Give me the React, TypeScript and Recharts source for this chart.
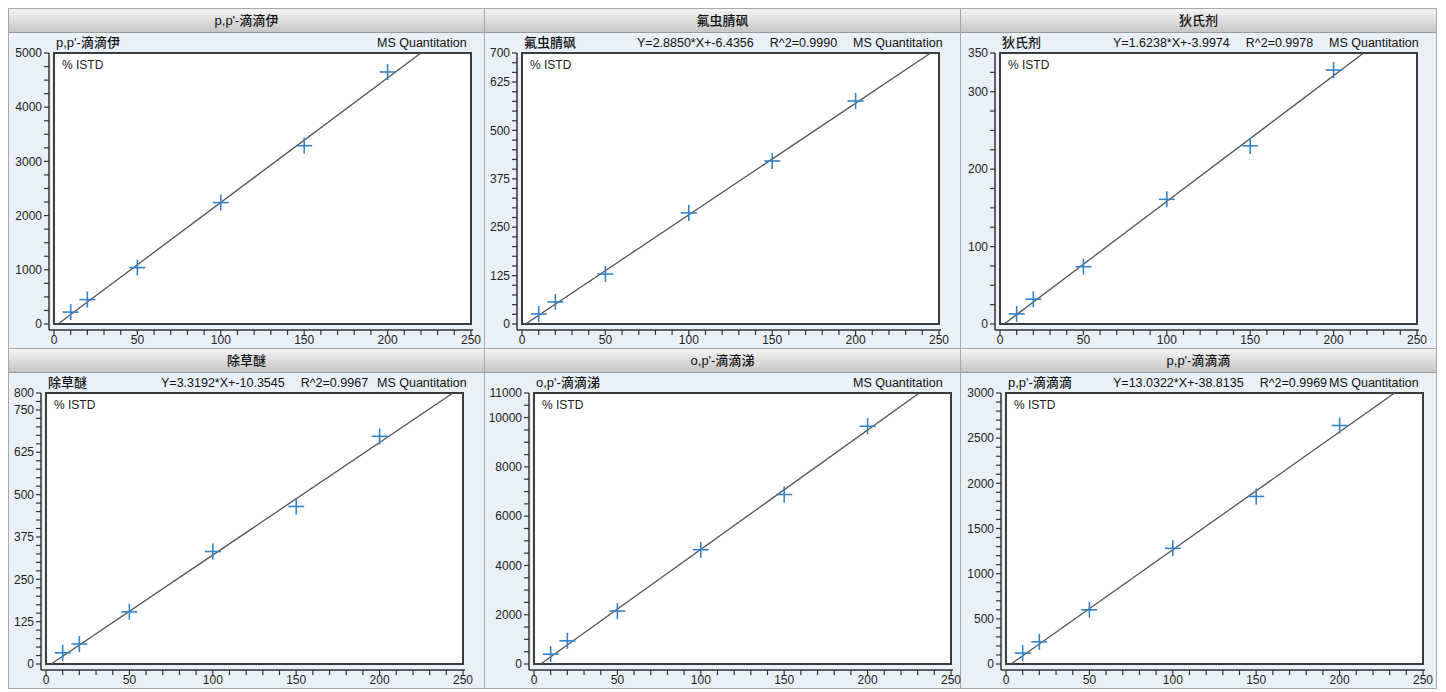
import React from 'react';
import { ComposedChart, Line, Scatter, XAxis, YAxis } from 'recharts';

// standard concentrations (same for every compound)
const concentrations = [10, 20, 50, 100, 150, 200];

// responses
const ddeResponse = [220, 450, 1040, 2240, 3290, 4650];
const fipronilResponse = [26, 57, 129, 287, 421, 576];
const dieldrinResponse = [13, 32, 74, 161, 230, 328];
const nitrofenResponse = [33, 59, 154, 332, 465, 672];
const opDdtResponse = [400, 940, 2150, 4640, 6880, 9650];
const dddResponse = [120, 245, 600, 1280, 1855, 2640];

// fitted line: where it leaves the bottom (y = 0) and where it meets the top of the box
const ddeFitX = [2.4, 220];
const fipronilFitX = [2.2, 245];
const dieldrinFitX = [2.5, 218];
const nitrofenFitX = [3.1, 244];
const opDdtFitX = [4, 231];
const dddFitX = [3, 233];

const xLabels = [0, 50, 100, 150, 200, 250];
const xMinorStep = 10;

const ddeYLabels = [0, 1000, 2000, 3000, 4000, 5000];
const fipronilYLabels = [0, 125, 250, 375, 500, 625, 700];
const dieldrinYLabels = [0, 100, 200, 300, 350];
const nitrofenYLabels = [0, 125, 250, 375, 500, 625, 750, 800];
const opDdtYLabels = [0, 2000, 4000, 6000, 8000, 10000, 11000];
const dddYLabels = [0, 500, 1000, 1500, 2000, 2500, 3000];

const FONT = '"Liberation Sans", Arial, "Noto Sans CJK SC", sans-serif';
const PANEL_W = 476;
const PANEL_H = 340;
const HEAD_H = 24;
const BOX_TOP = 44;
const BOX_H = 271;
const BOX_W = 417;
const CHART_H = PANEL_H - HEAD_H;
const TICK = 5;

function stepTicks(max: number, step: number) {
  const t: number[] = [];
  for (let i = 0; i * step <= max; i++) t.push(i * step);
  return t;
}

type PanelDef = {
  title: string;
  equation?: string;
  r2?: string;
  response: number[];
  fitX: number[];
  yLabels: number[];
  yMinor: number;
  boxLeft: number;
};

const panels: PanelDef[] = [
  { title: "p,p'-滴滴伊", response: ddeResponse, fitX: ddeFitX, yLabels: ddeYLabels, yMinor: 250, boxLeft: 45 },
  { title: '氟虫腈砜', equation: 'Y=2.8850*X+-6.4356', r2: 'R^2=0.9990', response: fipronilResponse, fitX: fipronilFitX, yLabels: fipronilYLabels, yMinor: 25, boxLeft: 37 },
  { title: '狄氏剂', equation: 'Y=1.6238*X+-3.9974', r2: 'R^2=0.9978', response: dieldrinResponse, fitX: dieldrinFitX, yLabels: dieldrinYLabels, yMinor: 25, boxLeft: 39 },
  { title: '除草醚', equation: 'Y=3.3192*X+-10.3545', r2: 'R^2=0.9967', response: nitrofenResponse, fitX: nitrofenFitX, yLabels: nitrofenYLabels, yMinor: 25, boxLeft: 37 },
  { title: "o,p'-滴滴涕", response: opDdtResponse, fitX: opDdtFitX, yLabels: opDdtYLabels, yMinor: 500, boxLeft: 49 },
  { title: "p,p'-滴滴滴", equation: 'Y=13.0322*X+-38.8135', r2: 'R^2=0.9969', response: dddResponse, fitX: dddFitX, yLabels: dddYLabels, yMinor: 100, boxLeft: 45 },
];

const Cross = (props: any) => {
  const { cx, cy } = props;
  if (cx == null || cy == null) return <g />;
  return (
    <g stroke="#3483c9" strokeWidth={1.6}>
      <line x1={cx - 8} y1={cy} x2={cx + 8} y2={cy} />
      <line x1={cx} y1={cy - 8} x2={cx} y2={cy + 8} />
    </g>
  );
};

// y tick: mark drawn here so minor ticks show, label only on the listed values
const makeYTick = (labels: number[]) => (props: any) => {
  const { x, y, payload } = props;
  const ax = x + 2 + TICK;
  return (
    <g>
      <line x1={ax - TICK} y1={y} x2={ax} y2={y} stroke="#333" strokeWidth={1.2} />
      {labels.includes(payload.value) && (
        <text x={x} y={y} dy="0.35em" textAnchor="end" fontSize={12} fill="#222" fontFamily={FONT}>
          {payload.value}
        </text>
      )}
    </g>
  );
};

const xTick = (props: any) => {
  const { x, y, payload } = props;
  const ay = y - TICK;
  return (
    <g>
      <line x1={x} y1={ay} x2={x} y2={ay + TICK} stroke="#333" strokeWidth={1.2} />
      {xLabels.includes(payload.value) && (
        <text x={x} y={y} dy="0.75em" textAnchor="middle" fontSize={12} fill="#222" fontFamily={FONT}>
          {payload.value}
        </text>
      )}
    </g>
  );
};

function Panel({ p, left, top }: { p: PanelDef; left: number; top: number }) {
  const yMax = p.yLabels[p.yLabels.length - 1];
  const points = concentrations.map((c, i) => ({ x: c, y: p.response[i] }));
  const fit = [
    { x: p.fitX[0], y: 0 },
    { x: p.fitX[1], y: yMax },
  ];
  const rightMargin = PANEL_W - (p.boxLeft + BOX_W + 2);

  return (
    <div
      style={{
        position: 'absolute', left, top, width: PANEL_W, height: PANEL_H,
        background: '#e9f0f8', borderRight: '1px solid #a8a8a8', borderBottom: '1px solid #a8a8a8',
        boxSizing: 'border-box', fontFamily: FONT, color: '#111',
      }}
    >
      <div
        style={{
          height: HEAD_H, background: 'linear-gradient(#f4f4f4, #c6c6c6)', borderBottom: '1px solid #9c9c9c',
          boxSizing: 'border-box', textAlign: 'center', lineHeight: '23px', fontSize: 13, fontWeight: 500,
        }}
      >
        {p.title}
      </div>
      <div style={{ position: 'absolute', left: p.boxLeft + 2, top: 23, fontSize: 13, fontWeight: 500, whiteSpace: 'nowrap' }}>{p.title}</div>
      {p.equation && (
        <div style={{ position: 'absolute', left: 152, top: 27, fontSize: 12.5, whiteSpace: 'pre' }}>
          {p.equation}
          <span style={{ marginLeft: 16 }}>{p.r2}</span>
        </div>
      )}
      <div style={{ position: 'absolute', left: 368, top: 27, fontSize: 12.5, whiteSpace: 'nowrap' }}>MS Quantitation</div>
      <div
        style={{
          position: 'absolute', left: p.boxLeft - 1, top: BOX_TOP - 1, width: BOX_W + 2, height: BOX_H + 2,
          background: '#fff', border: '2px solid #3c3c3c', boxSizing: 'border-box',
        }}
      />
      <div style={{ position: 'absolute', left: p.boxLeft + 8, top: BOX_TOP + 5, fontSize: 12, color: '#222' }}>% ISTD</div>
      <div style={{ position: 'absolute', left: 0, top: HEAD_H }}>
        <ComposedChart width={PANEL_W} height={CHART_H} margin={{ top: 20, right: rightMargin, bottom: 0, left: 0 }}>
          <XAxis
            dataKey="x"
            type="number"
            domain={[0, 250]}
            ticks={stepTicks(250, xMinorStep)}
            interval={0}
            allowDataOverflow
            padding={{ left: 5, right: 2 }}
            height={19}
            tickSize={TICK}
            tickMargin={0}
            axisLine={{ stroke: '#333', strokeWidth: 1.5 }}
            tickLine={false}
            tick={xTick}
          />
          <YAxis
            dataKey="y"
            type="number"
            domain={[0, yMax]}
            ticks={stepTicks(yMax, p.yMinor)}
            interval={0}
            allowDataOverflow
            padding={{ top: 0, bottom: 6 }}
            width={p.boxLeft - 5}
            tickSize={TICK}
            tickMargin={2}
            axisLine={{ stroke: '#333', strokeWidth: 1.5 }}
            tickLine={false}
            tick={makeYTick(p.yLabels)}
          />
          <Line data={fit} dataKey="y" type="linear" stroke="#555" strokeWidth={1.3} dot={false} isAnimationActive={false} />
          <Scatter data={points} dataKey="y" shape={Cross} isAnimationActive={false} />
        </ComposedChart>
      </div>
    </div>
  );
}

export default function App() {
  return (
    <div
      style={{
        position: 'relative', width: PANEL_W * 3, height: PANEL_H * 2,
        borderLeft: '1px solid #a8a8a8', borderTop: '1px solid #a8a8a8', background: '#fff',
      }}
    >
      {panels.map((p, i) => (
        <Panel key={i} p={p} left={(i % 3) * PANEL_W} top={Math.floor(i / 3) * PANEL_H} />
      ))}
    </div>
  );
}
